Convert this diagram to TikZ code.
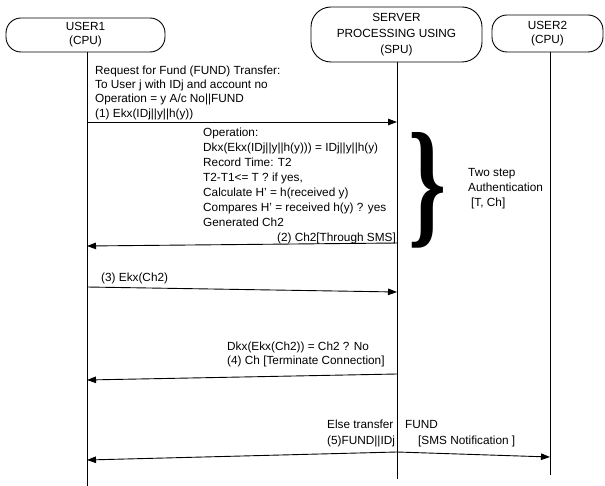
\documentclass[tikz,border=0pt]{standalone}
\usepackage{fontspec}
\setmainfont{Liberation Sans}
\newfontfamily\bracefont{Liberation Serif}
\usepackage{graphicx}
\usetikzlibrary{arrows.meta}
\begin{document}
\begin{tikzpicture}[x=1pt,y=-1pt,
  actor/.style={draw, line width=0.9pt, rounded corners=15pt, align=center,
    font=\fontsize{11.8}{14}\selectfont, inner sep=0pt},
  life/.style={line width=0.9pt},
  msg/.style={line width=0.9pt, -{Triangle[length=9pt,width=6.5pt]}},
  txt/.style={font=\fontsize{11.8}{15}\selectfont, inner sep=0pt, align=left}
]
\useasboundingbox (0,0) rectangle (605,486);

% actors
\node[actor, minimum width=159pt, minimum height=34pt] (user1) at (85.5,35) {USER1\\(CPU)};
\node[actor, minimum width=171pt, minimum height=55pt, rounded corners=20pt,
  font=\fontsize{11.8}{16}\selectfont] (server) at (396.5,34.5) {SERVER\\PROCESSING USING\\(SPU)};
\node[actor, minimum width=111pt, minimum height=37pt] (user2) at (547.5,33.5) {USER2\\(CPU)};

% lifelines
\coordinate (u1end) at (87,486);
\coordinate (svend) at (397,479);
\coordinate (u2end) at (550,475);
\draw[life] (user1.south -| u1end) -- (u1end);
\draw[life] (server.south -| svend) -- (svend);
\draw[life] (user2.south -| u2end) -- (u2end);

% message end points
\coordinate (m1a) at (87,122);  \coordinate (m1b) at (397,122);
\coordinate (m2a) at (397,243); \coordinate (m2b) at (87,246);
\coordinate (m3a) at (87,287);  \coordinate (m3b) at (397,292);
\coordinate (m4a) at (397,374); \coordinate (m4b) at (87,380);
\coordinate (m5s) at (397,452); \coordinate (m5l) at (87,460);
\coordinate (m5r) at (550,457);

\draw[msg] (m1a) -- (m1b);
\draw[msg] (m2a) -- (m2b);
\draw[msg] (m3a) -- (m3b);
\draw[msg] (m4a) -- (m4b);
\draw[msg] (m5s) -- (m5l);
\draw[msg] (m5s) -- (m5r);

% texts
\node[txt, anchor=north west, font=\fontsize{11.8}{14.3}\selectfont] (req) at (95,65.5)
  {Request for Fund (FUND) Transfer:\\To User j with IDj and account no\\Operation = y A/c No||FUND\\(1) Ekx(IDj||y||h(y))};
\node[txt, anchor=north west] (op) at (203,127.6)
  {Operation:\\Dkx(Ekx(IDj||y||h(y))) = IDj||y||h(y)\\Record Time: T2\\T2-T1<= T ? if yes,\\Calculate H’ = h(received y)\\Compares H’ = received h(y) ? yes\\Generated Ch2};
\node[txt, anchor=base east] (l2) at (396,242) {(2) Ch2[Through SMS]};
\node[inner sep=0pt] (brace) at (428,190) {\resizebox{38pt}{97pt}{\bracefont\bfseries\}}};
\node[txt, anchor=north west] (twostep) at (468,168.6)
  {Two step\\Authentication\\\hspace{3pt}[T, Ch]};
\node[txt, anchor=base west] (l3) at (101,282) {(3) Ekx(Ch2)};
\node[txt, anchor=north west, font=\fontsize{11.8}{14}\selectfont] (l4) at (227,341.6)
  {Dkx(Ekx(Ch2)) = Ch2 ? No\\(4) Ch [Terminate Connection]};
\node[txt, anchor=base west] (l5a) at (327,428) {Else transfer};
\node[txt, anchor=base west] (l5b) at (405,428) {FUND};
\node[txt, anchor=base west] (l5c) at (327,444) {(5)FUND||IDj};
\node[txt, anchor=base west] (l5d) at (418,444) {[SMS Notification ]};
\end{tikzpicture}
\end{document}
